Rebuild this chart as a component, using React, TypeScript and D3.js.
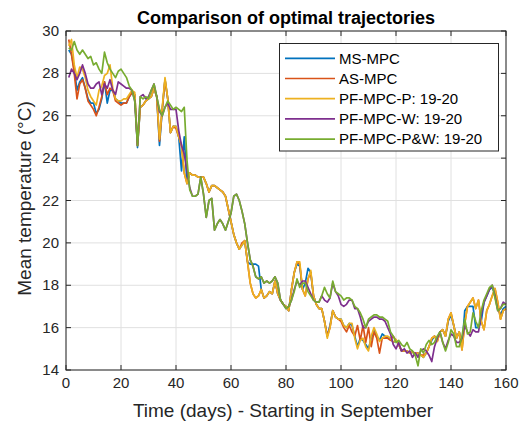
import React from "react";
import * as d3 from "d3";

const seriesNames = ["MS-MPC", "AS-MPC", "PF-MPC-P: 19-20", "PF-MPC-W: 19-20", "PF-MPC-P&W: 19-20"];
const seriesColors = ["#0072BD", "#D95319", "#EDB120", "#7E2F8E", "#77AC30"];

const msMpc = [
  29.1, 28.9, 28.2, 27.2, 27.6, 27.8, 27.3, 26.8, 26.6, 26.6,
  26.1, 26.3, 26.8, 27.6, 26.6, 27.2, 27.2, 26.8, 26.7, 26.6,
  26.6, 26.6, 26.9, 27.1, 27.0, 24.5, 26.4, 26.5, 26.7, 26.8,
  26.9, 27.3, 26.9, 24.6, 26.3, 27.7, 26.8, 25.2, 25.5, 25.5,
  25.0, 23.4, 25.0, 22.8, 23.3, 23.2, 23.2, 23.1, 23.1, 23.1,
  22.8, 22.4, 22.7, 22.7, 22.6, 22.5, 22.4, 22.2, 21.6, 21.0,
  20.4, 20.0, 19.7, 19.9, 20.1, 19.1, 19.0, 19.0, 19.0, 18.9,
  17.8, 17.4, 17.5, 17.7, 17.6, 18.2, 17.6, 17.3, 17.1, 17.0,
  16.8, 17.8, 18.6, 19.0, 18.9, 17.8, 18.1, 18.8, 18.6, 17.5,
  17.1, 16.9, 16.9, 16.3, 15.6, 16.1, 16.8, 16.5, 16.4, 16.4,
  16.1, 16.0, 16.2, 16.1, 15.6, 15.1, 15.5, 15.4, 15.2, 15.0,
  15.5, 15.9, 15.6, 15.4, 15.7, 15.6, 15.5, 15.5, 15.3, 15.4,
  15.2, 14.9, 14.9, 14.9, 14.8, 14.85, 14.7, 14.8, 14.7, 14.6,
  14.8, 15.1, 15.4, 15.6, 15.4, 15.8, 15.9, 15.6, 16.3, 16.6,
  16.1, 15.5, 15.8, 15.1, 16.8, 17.0, 17.0, 17.0, 16.0, 16.0,
  16.3, 17.2, 17.5, 17.8, 17.9, 17.6, 16.9, 16.6, 16.9, 17.0,
];

const asMpc = [
  29.6, 28.9, 28.0, 26.8, 27.5, 27.7, 27.3, 26.7, 26.5, 26.3,
  26.0, 26.4, 26.9, 27.6, 27.0, 27.3, 27.2, 26.7, 26.6, 26.5,
  26.6, 26.6, 26.9, 27.1, 27.0, 24.6, 26.4, 26.5, 26.7, 26.8,
  26.9, 27.3, 26.9, 24.8, 26.3, 27.7, 26.8, 25.2, 25.5, 25.4,
  25.0, 24.6, 23.3, 22.8, 23.3, 23.2, 23.2, 23.1, 23.1, 23.1,
  22.8, 22.4, 22.7, 22.7, 22.6, 22.5, 22.4, 22.2, 21.6, 21.0,
  20.4, 20.0, 19.7, 20.0, 20.1, 19.1, 18.1, 17.6, 17.4, 17.5,
  17.8, 17.4, 17.5, 17.7, 17.6, 18.2, 17.6, 17.3, 17.1, 17.0,
  16.8, 17.8, 18.6, 19.1, 19.0, 17.8, 17.5, 18.3, 18.6, 17.5,
  17.1, 16.9, 16.9, 16.3, 15.6, 16.0, 16.8, 16.5, 16.4, 16.3,
  16.0, 15.8, 16.1, 15.8, 15.6, 16.1, 15.4, 16.1, 15.3, 16.0,
  15.1, 15.8, 15.5, 14.8, 15.5, 15.5, 15.5, 15.4, 15.6, 15.4,
  15.2, 14.9, 14.9, 14.9, 14.8, 14.85, 14.8, 14.8, 14.7, 14.7,
  14.8, 15.1, 15.5, 15.6, 15.35, 15.8, 15.9, 15.6, 16.4, 16.7,
  16.1, 15.5, 15.8, 14.95, 16.2, 17.0, 17.2, 17.4, 16.9, 17.3,
  16.3, 15.9, 16.8, 17.1, 17.5, 17.85, 17.2, 16.4, 16.8, 16.9,
];

const pfMpcP = [
  29.3, 29.6, 28.4, 27.8, 28.3, 28.2, 27.8, 27.2, 26.9, 26.7,
  26.5, 27.2, 27.4, 27.9, 28.0, 28.4, 27.3, 26.8, 26.7, 26.7,
  26.8, 26.8, 27.0, 27.2, 27.1, 24.6, 26.4, 26.5, 26.7, 26.8,
  26.9, 27.3, 26.9, 24.9, 26.4, 27.8, 26.8, 25.2, 25.5, 25.5,
  25.0, 24.6, 23.3, 22.8, 23.3, 23.2, 23.2, 23.1, 23.1, 23.1,
  22.8, 22.4, 22.7, 22.7, 22.6, 22.5, 22.4, 22.2, 21.6, 21.0,
  20.4, 20.0, 19.7, 19.9, 20.1, 19.1, 18.1, 17.6, 17.4, 17.5,
  17.8, 17.4, 17.5, 17.7, 17.6, 18.2, 17.6, 17.3, 17.1, 17.0,
  16.8, 17.8, 18.6, 19.1, 19.1, 17.8, 17.5, 18.3, 18.7, 17.5,
  17.1, 16.9, 16.9, 16.3, 15.5, 16.0, 16.8, 16.5, 16.4, 16.4,
  16.1, 16.0, 16.2, 16.2, 15.5, 15.0, 15.4, 15.5, 15.1, 14.9,
  15.6, 16.0, 15.7, 15.35, 15.5, 15.6, 15.6, 15.5, 15.3, 15.45,
  15.2, 14.95, 14.9, 14.9, 14.8, 14.85, 14.7, 14.8, 14.7, 14.6,
  14.8, 15.1, 15.5, 15.6, 15.35, 15.8, 15.9, 15.6, 16.4, 16.7,
  16.1, 15.5, 15.8, 14.95, 16.2, 17.0, 17.2, 17.4, 16.9, 17.3,
  16.3, 15.9, 16.8, 17.1, 17.5, 17.85, 17.2, 16.4, 16.8, 16.9,
];

const pfMpcW = [
  27.8, 28.2, 28.0, 27.7, 28.0, 28.4, 28.0, 27.5, 27.3, 27.3,
  27.5, 27.6, 27.0, 27.5, 27.3, 27.7, 27.2, 27.0, 27.6, 27.5,
  27.4, 27.3, 27.3, 27.2, 26.7, 24.6, 26.9, 27.0, 26.8, 26.9,
  27.2, 27.5, 26.9, 26.2, 26.0, 26.4, 26.6, 26.3, 26.3, 26.3,
  25.3, 24.6, 24.2, 23.4, 22.6, 22.2, 22.2, 22.3, 23.1, 22.3,
  21.2, 22.0, 22.1, 20.6, 20.9, 21.1, 20.9, 20.6, 21.0, 21.4,
  22.2, 22.3, 22.0, 21.5, 20.9, 20.0, 19.2, 18.9, 18.4, 18.3,
  18.4, 18.1, 18.2, 18.1, 18.2, 18.4, 18.1, 17.3, 17.1, 16.9,
  17.0, 17.3, 17.8, 18.2, 18.0, 18.2, 18.2, 17.9, 17.6, 17.3,
  17.2, 17.2, 17.5, 17.3, 17.2, 17.4, 18.1, 17.7, 17.5, 17.1,
  17.0, 17.1, 17.3, 17.3, 16.9, 16.9, 16.5, 16.0, 16.0, 16.3,
  16.4, 16.5, 16.5, 16.4, 16.4, 16.3, 16.0, 15.7, 15.2, 15.0,
  15.3, 14.9, 15.0, 14.8, 14.9, 14.6, 14.8, 14.6, 14.9, 15.0,
  14.9, 14.7, 14.4, 15.1, 15.5, 15.8, 15.3, 15.0, 15.4, 15.7,
  15.6, 15.3, 15.3, 15.5, 16.1, 15.8, 15.6, 15.9, 15.8, 15.8,
  16.6, 17.2, 17.5, 17.8, 18.0, 17.5, 16.8, 16.9, 17.2, 17.1,
];

const pfMpcPW = [
  29.2, 29.1, 29.5, 29.1, 28.9, 29.1, 28.9, 28.7, 28.8, 28.4,
  28.5, 28.2, 28.0, 29.0, 28.5, 28.2, 28.0, 27.8, 28.1, 28.2,
  28.0, 27.8, 27.4, 27.2, 26.7, 24.6, 26.9, 26.8, 26.9, 26.8,
  27.2, 27.5, 26.9, 26.3, 26.0, 26.4, 26.7, 26.5, 26.3, 26.4,
  26.3, 26.2, 26.4, 23.9, 22.5, 22.2, 22.2, 22.3, 23.1, 22.3,
  21.2, 22.0, 22.1, 20.6, 20.9, 21.1, 20.9, 20.6, 21.0, 21.4,
  22.2, 22.3, 22.0, 21.5, 20.9, 20.0, 19.2, 18.9, 18.4, 18.3,
  18.4, 18.1, 18.2, 18.1, 18.2, 18.4, 18.1, 17.3, 17.1, 16.9,
  17.0, 17.3, 17.7, 18.3, 17.9, 18.1, 18.1, 17.7, 17.5, 17.3,
  17.2, 17.2, 17.5, 17.9, 17.6, 17.4, 18.2, 17.7, 17.6, 17.5,
  17.3, 17.4, 17.4, 17.3, 17.0, 16.9, 16.7, 16.4, 16.0, 16.4,
  16.5, 16.6, 16.6, 16.5, 16.5, 16.4, 16.3, 15.8, 15.6, 15.3,
  15.4, 15.2, 15.1, 15.3, 15.0, 14.9, 14.7, 14.2, 15.0, 14.8,
  15.2, 15.4, 15.2, 15.3, 15.6, 15.8, 15.3, 14.9, 15.3, 15.9,
  15.7, 15.1, 15.1, 15.6, 16.4, 15.7, 15.8, 16.7, 16.3, 16.0,
  16.8, 17.3, 17.6, 17.9, 18.0, 17.4, 16.8, 16.9, 17.1, 17.1,
];

const allSeries = [msMpc, asMpc, pfMpcP, pfMpcW, pfMpcPW];
const xTicks = [0, 20, 40, 60, 80, 100, 120, 140, 160];
const yTicks = [14, 16, 18, 20, 22, 24, 26, 28, 30];

const titleText = "Comparison of optimal trajectories";
const xLabelText = "Time (days) - Starting in September";
const yLabelText = "Mean temperature (\u00B0C)";

const W = 525;
const H = 423;
const M = { left: 66, right: 506, top: 31, bottom: 370 };
const FONT = "'Liberation Sans', Arial, Helvetica, sans-serif";
const AXC = "#262626";

export default function App() {
  const x = d3.scaleLinear().domain([0, 160]).range([M.left, M.right]);
  const y = d3.scaleLinear().domain([14, 30]).range([M.bottom, M.top]);
  const line = d3
    .line<number>()
    .x((_, i) => x(i + 1))
    .y((v) => y(v));

  const legX = 279.5;
  const legY = 43.5;
  const legW = 219;
  const legH = 107.5;

  return (
    <svg
      width={W}
      height={H}
      style={{ position: "absolute", left: 0, top: 0, background: "#fff" }}
      fontFamily={FONT}
    >
      <rect x={0} y={0} width={W} height={H} fill="#fff" />
      {xTicks.map((t) => (
        <line key={"gx" + t} x1={x(t)} x2={x(t)} y1={M.top} y2={M.bottom} stroke="#e0e0e0" strokeWidth={1} />
      ))}
      {yTicks.map((t) => (
        <line key={"gy" + t} x1={M.left} x2={M.right} y1={y(t)} y2={y(t)} stroke="#e0e0e0" strokeWidth={1} />
      ))}
      {allSeries.map((s, i) => (
        <path
          key={"s" + i}
          d={line(s) || ""}
          fill="none"
          stroke={seriesColors[i]}
          strokeWidth={1.7}
          strokeLinejoin="round"
        />
      ))}
      <rect
        x={M.left}
        y={M.top}
        width={M.right - M.left}
        height={M.bottom - M.top}
        fill="none"
        stroke={AXC}
        strokeWidth={1}
      />
      {xTicks.map((t) => (
        <g key={"xt" + t}>
          <line x1={x(t)} x2={x(t)} y1={M.bottom} y2={M.bottom - 5} stroke={AXC} />
          <line x1={x(t)} x2={x(t)} y1={M.top} y2={M.top + 5} stroke={AXC} />
          <text x={x(t)} y={M.bottom + 18} fontSize={15} textAnchor="middle" fill={AXC}>
            {t}
          </text>
        </g>
      ))}
      {yTicks.map((t) => (
        <g key={"yt" + t}>
          <line x1={M.left} x2={M.left + 5} y1={y(t)} y2={y(t)} stroke={AXC} />
          <line x1={M.right} x2={M.right - 5} y1={y(t)} y2={y(t)} stroke={AXC} />
          <text x={M.left - 7} y={y(t) + 5} fontSize={15} textAnchor="end" fill={AXC}>
            {t}
          </text>
        </g>
      ))}
      <text x={(M.left + M.right) / 2} y={24} fontSize={18} fontWeight="bold" textAnchor="middle" fill="#000">
        {titleText}
      </text>
      <text x={(M.left + M.right) / 2 - 3} y={417} fontSize={19} textAnchor="middle" fill={AXC}>
        {xLabelText}
      </text>
      <text
        transform={`translate(31, ${(M.top + M.bottom) / 2 - 2}) rotate(-90)`}
        fontSize={19}
        textAnchor="middle"
        fill={AXC}
      >
        {yLabelText}
      </text>
      <rect x={legX} y={legY} width={legW} height={legH} fill="#fff" stroke={AXC} strokeWidth={1} />
      {seriesNames.map((n, i) => {
        const ly = 58.3 + i * 20.2;
        return (
          <g key={"lg" + i}>
            <line x1={285} x2={335} y1={ly} y2={ly} stroke={seriesColors[i]} strokeWidth={1.7} />
            <text x={339} y={ly + 5.3} fontSize={15} fill="#000">
              {n}
            </text>
          </g>
        );
      })}
    </svg>
  );
}
